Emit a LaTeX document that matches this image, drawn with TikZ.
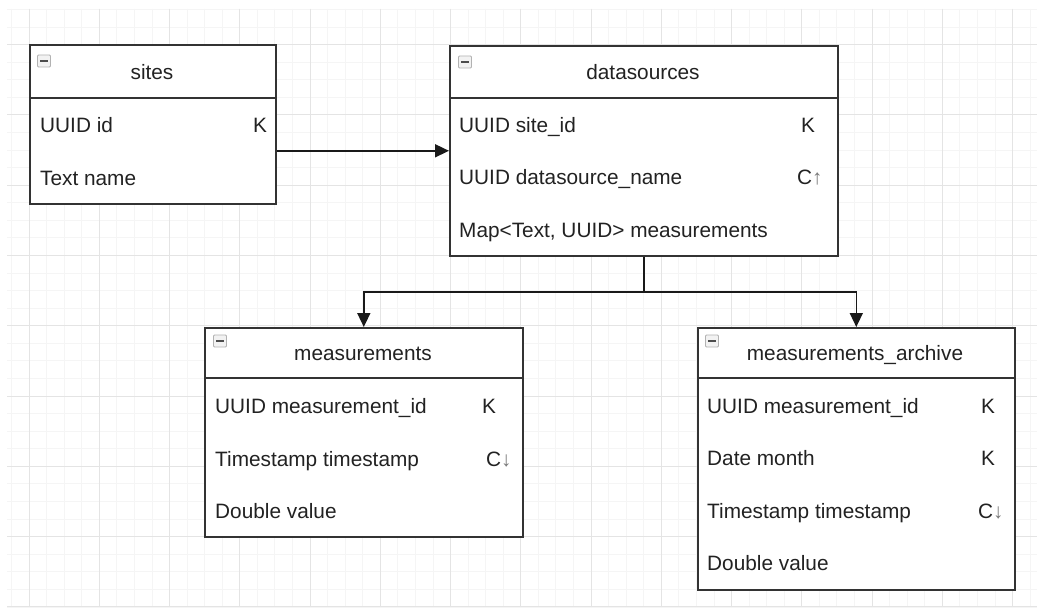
\documentclass[tikz,border=0pt]{standalone}
\usepackage{fontspec}
\setmainfont{Liberation Sans}
\usetikzlibrary{arrows.meta}
\definecolor{gridminor}{HTML}{F5F5F5}
\definecolor{gridmajor}{HTML}{E4E4E4}
\definecolor{boxline}{HTML}{333333}
\definecolor{txt}{HTML}{222222}
\definecolor{glyph}{HTML}{7A7A7A}
\tikzset{
  tbl/.style={draw=boxline, line width=1.6pt, fill=white, inner sep=0pt, anchor=north west},
  sep/.style={draw=boxline, line width=1.6pt},
  hdr/.style={anchor=base, text=txt, inner sep=0pt, font=\fontsize{20.8}{24}\selectfont},
  fld/.style={anchor=base west, text=txt, inner sep=0pt, font=\fontsize{20.8}{24}\selectfont},
  icon/.style={draw=gray!60, fill=gray!10, line width=0.9pt, minimum width=13pt, minimum height=12pt,
    inner sep=0pt, rounded corners=1pt,
    path picture={\draw[line width=1.6pt, black!70] ([xshift=2.8pt]path picture bounding box.west) -- ([xshift=-2.8pt]path picture bounding box.east);}},
  conn/.style={draw=black!90, line width=1.6pt},
  arr/.style={conn, -{Triangle[length=14pt, width=13pt]}},
}
\begin{document}
\begin{tikzpicture}[x=1pt, y=-1pt]
\useasboundingbox[fill=white] (0,0) rectangle (1037,610);
% grid
\begin{scope}
  \clip (7,9) rectangle (1037,607);
  \foreach \i in {-2,...,60} \draw[gridminor, line width=0.8pt] ({29+\i*17.5625},9) -- ({29+\i*17.5625},607);
  \foreach \j in {-2,...,34} \draw[gridminor, line width=0.8pt] (7,{44.5+\j*17.575}) -- (1037,{44.5+\j*17.575});
  \foreach \i in {-1,...,15} \draw[gridmajor, line width=1pt] ({29+\i*70.25},9) -- ({29+\i*70.25},607);
  \foreach \j in {-1,...,9} \draw[gridmajor, line width=1pt] (7,{44.5+\j*70.3}) -- (1037,{44.5+\j*70.3});
\end{scope}

% sites
\node[tbl, minimum width=246pt, minimum height=159pt] (sites) at (29,44) {};
\draw[sep] (sites.west |- 0,98) -- (sites.east |- 0,98);
\node[icon] (sites-icon) at (44,61) {};
\node[hdr] (sites-title) at (152,80) {sites};
\node[fld] (sites-f1) at (40,132) {UUID id};
\node[fld] (sites-k1) at (253,132) {K};
\node[fld] (sites-f2) at (40,185) {Text name};

% datasources
\node[tbl, minimum width=388pt, minimum height=210pt] (ds) at (449,45) {};
\draw[sep] (ds.west |- 0,98) -- (ds.east |- 0,98);
\node[icon] (ds-icon) at (465,62) {};
\node[hdr] (ds-title) at (643,80) {datasources};
\node[fld] (ds-f1) at (459,132) {UUID site\_id};
\node[fld] (ds-k1) at (801,132) {K};
\node[fld] (ds-f2) at (459,184) {UUID datasource\_name};
\node[fld] (ds-k2) at (797,184) {C\textcolor{glyph}{↑}};
\node[fld] (ds-f3) at (459,237) {Map<Text, UUID> measurements};

% measurements
\node[tbl, minimum width=318pt, minimum height=209pt] (meas) at (204,327) {};
\draw[sep] (meas.west |- 0,378) -- (meas.east |- 0,378);
\node[icon] (meas-icon) at (220,341) {};
\node[hdr] (meas-title) at (363,360) {measurements};
\node[fld] (meas-f1) at (215,413) {UUID measurement\_id};
\node[fld] (meas-k1) at (482,413) {K};
\node[fld] (meas-f2) at (215,466) {Timestamp timestamp};
\node[fld] (meas-k2) at (486,466) {C\textcolor{glyph}{↓}};
\node[fld] (meas-f3) at (215,518) {Double value};

% measurements_archive
\node[tbl, minimum width=317pt, minimum height=262pt] (arch) at (697,327) {};
\draw[sep] (arch.west |- 0,378) -- (arch.east |- 0,378);
\node[icon] (arch-icon) at (712,341) {};
\node[hdr] (arch-title) at (855,360) {measurements\_archive};
\node[fld] (arch-f1) at (707,413) {UUID measurement\_id};
\node[fld] (arch-k1) at (981,413) {K};
\node[fld] (arch-f2) at (707,465) {Date month};
\node[fld] (arch-k2) at (981,465) {K};
\node[fld] (arch-f3) at (707,518) {Timestamp timestamp};
\node[fld] (arch-k3) at (978,518) {C\textcolor{glyph}{↓}};
\node[fld] (arch-f4) at (707,570) {Double value};

% connectors
\draw[arr] (sites.east |- ds.west) -- (ds.west);
\coordinate (split) at (ds.south |- 0,292);
\draw[conn] (ds.south) -- (split);
\draw[arr] (split) -| (meas.north);
\draw[arr] (split) -| (arch.north);
\end{tikzpicture}
\end{document}
